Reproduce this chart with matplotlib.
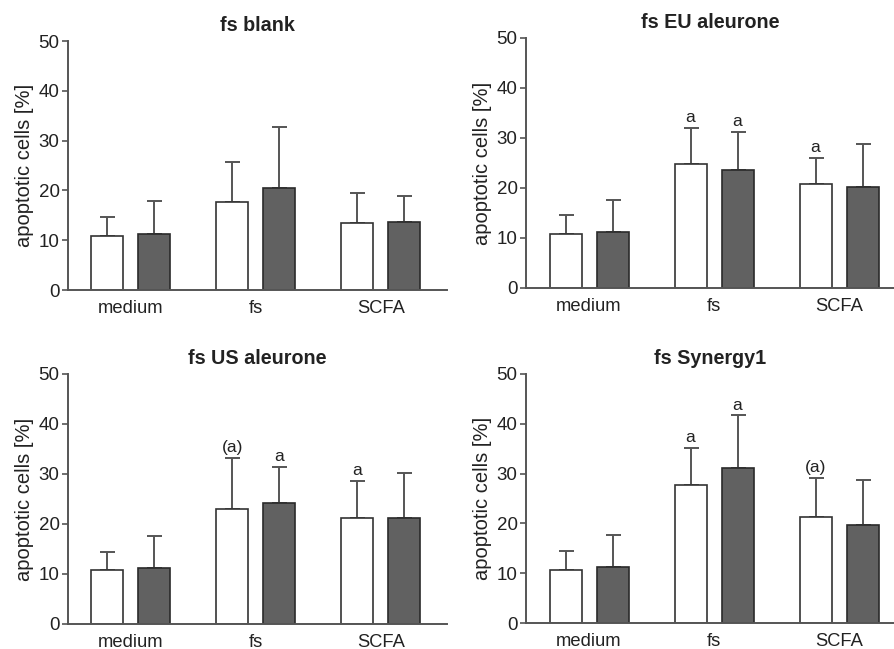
import matplotlib
matplotlib.use("Agg")
import matplotlib.pyplot as plt
import numpy as np

plt.rcParams['font.family'] = ['Liberation Sans', 'DejaVu Sans']

# data
groups = ["medium", "fs", "SCFA"]
titles = ["fs blank", "fs EU aleurone", "fs US aleurone", "fs Synergy1"]

white_mean = [[10.8, 17.7, 13.4],
              [10.8, 24.8, 20.8],
              [10.8, 23.0, 21.3],
              [10.7, 27.8, 21.2]]
white_sd = [[3.8, 8.1, 6.1],
            [3.8, 7.3, 5.3],
            [3.7, 10.2, 7.4],
            [3.8, 7.4, 8.0]]
dark_mean = [[11.3, 20.4, 13.7],
             [11.2, 23.7, 20.3],
             [11.3, 24.3, 21.3],
             [11.2, 31.2, 19.7]]
dark_sd = [[6.5, 12.3, 5.2],
           [6.4, 7.5, 8.6],
           [6.4, 7.1, 8.9],
           [6.4, 10.5, 9.1]]
white_marks = [["", "", ""],
               ["", "a", "a"],
               ["", "(a)", "a"],
               ["", "a", "(a)"]]
dark_marks = [["", "", ""],
              ["", "a", ""],
              ["", "a", ""],
              ["", "a", ""]]

W, H = 894, 649
fig = plt.figure(figsize=(W / 100, H / 100), dpi=100)

# axes boxes in pixels: left, right, top(y=50), bottom(y=0)
boxes = [(68, 447, 41, 290),
         (526, 894, 38, 288),
         (68, 447, 374, 624),
         (526, 894, 374, 623)]
xlims = [(-0.5, 2.53), (-0.505, 2.44), (-0.5, 2.53), (-0.505, 2.44)]

spine_col = "#555555"
txt_col = "#222222"
bw = 0.256
off = 0.188
x = np.arange(len(groups))

for i in range(4):
    l, r, t, b = boxes[i]
    ax = fig.add_axes([l / W, 1 - b / H, (r - l) / W, (b - t) / H])
    ax.bar(x - off, white_mean[i], bw, color="white", edgecolor="#333333", linewidth=1.2, zorder=2)
    ax.bar(x + off, dark_mean[i], bw, color="#616161", edgecolor="#2a2a2a", linewidth=1.2, zorder=2)
    ax.errorbar(x - off, white_mean[i], yerr=[np.zeros(3), white_sd[i]], fmt="none",
                ecolor=spine_col, elinewidth=1.4, capsize=5.4, capthick=1.4, zorder=1)
    ax.errorbar(x + off, dark_mean[i], yerr=[np.zeros(3), dark_sd[i]], fmt="none",
                ecolor=spine_col, elinewidth=1.4, capsize=5.4, capthick=1.4, zorder=1)
    for j in range(3):
        if white_marks[i][j]:
            ax.annotate(white_marks[i][j], (x[j] - off, white_mean[i][j] + white_sd[i][j]),
                        xytext=(0, 2), textcoords="offset points", ha="center", va="bottom",
                        fontsize=12.5, color=txt_col)
        if dark_marks[i][j]:
            ax.annotate(dark_marks[i][j], (x[j] + off, dark_mean[i][j] + dark_sd[i][j]),
                        xytext=(0, 2), textcoords="offset points", ha="center", va="bottom",
                        fontsize=12.5, color=txt_col)

    ax.set_xlim(*xlims[i])
    ax.set_ylim(0, 50)
    ax.set_yticks([0, 10, 20, 30, 40, 50])
    ax.set_xticks(x)
    ax.set_xticklabels(groups, fontsize=13.2, color=txt_col)
    ax.tick_params(axis="x", length=0, pad=7)
    ax.tick_params(axis="y", length=4.5, width=1.2, color=spine_col, labelsize=13.5,
                   labelcolor=txt_col, pad=1.5)
    for s in ["top", "right"]:
        ax.spines[s].set_visible(False)
    for s in ["left", "bottom"]:
        ax.spines[s].set_color(spine_col)
        ax.spines[s].set_linewidth(1.4)
    ax.set_ylabel("apoptotic cells [%]", fontsize=14.5, color=txt_col, labelpad=3)
    ax.set_title(titles[i], fontsize=14.2, fontweight="bold", color=txt_col, pad=7)
    ax.patch.set_visible(False)

fig.savefig("out.png", dpi=100)
